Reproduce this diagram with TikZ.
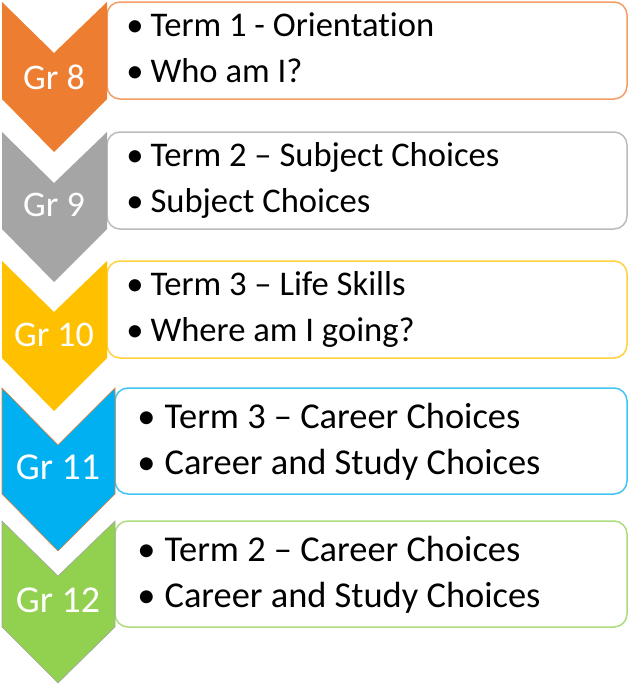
\documentclass[tikz,border=0pt]{standalone}
\usepackage{fontspec}
\setmainfont[Ligatures={NoCommon}]{Carlito}

\definecolor{gr8}{HTML}{ED7D31}
\definecolor{gr9}{HTML}{A5A5A5}
\definecolor{gr10}{HTML}{FFC000}
\definecolor{gr11}{HTML}{00B0F0}
\definecolor{gr12}{HTML}{92D050}

\tikzset{
	card/.style={draw=#1!75, line width=0.75pt, fill=white, rounded corners=6.5pt},
	chev/.style={fill=#1},
	grtext/.style={text=white, inner sep=0pt},
	item/.style={anchor=base west, inner sep=0pt, text=black},
}

\begin{document}
\begin{tikzpicture}[x=0.5pt, y=-0.5pt]

	\useasboundingbox (0, 0) rectangle (628, 685);

		% Gr 8
		\draw[card=gr8](107, 2) rectangle (627, 99);
		\fill[chev=gr8](2, 2) -- (54, 53) -- (107, 2) -- (107, 99) -- (54, 152) -- (2, 99) -- cycle;
		% Gr 9
		\draw[card=gr9](107, 132) rectangle (627, 229);
		\fill[chev=gr9](2, 132) -- (54, 183) -- (107, 132) -- (107, 229) -- (54, 282) -- (2, 229) -- cycle;
		% Gr 10
		\draw[card=gr10](107, 261) rectangle (627, 358);
		\fill[chev=gr10](2, 261) -- (54, 312) -- (107, 261) -- (107, 358) -- (54, 411) -- (2, 358) -- cycle;
		% Gr 11
		\draw[card=gr11](115, 388) rectangle (627, 494);
		\filldraw[chev=gr11, draw=gr8, line width=0.3pt](2, 388) -- (58, 445) -- (115, 388) -- (115, 494) -- (58, 551) -- (2, 494) -- cycle;
		% Gr 12
		\draw[card=gr12](115, 521) rectangle (627, 627);
		\filldraw[chev=gr12, draw=gr9, line width=0.3pt](2, 521) -- (58, 576) -- (115, 521) -- (115, 627) -- (58, 683) -- (2, 627) -- cycle;


		\node[grtext, font=\fontsize{18}{20}\selectfont] (g8) at(54, 77){Gr 8};
		\node[grtext, font=\fontsize{18}{20}\selectfont] (g9) at(54, 205){Gr 9};
		\node[grtext, font=\fontsize{18}{20}\selectfont] (g10) at(54, 335){Gr 10};
		\node[grtext, font=\fontsize{19}{21}\selectfont] (g11) at(58, 467){Gr 11};
		\node[grtext, font=\fontsize{19}{21}\selectfont] (g12) at(58, 600){Gr 12};

		\node[item, font=\fontsize{17.3}{20}\selectfont] (t8a) at(126, 36){•\hspace{.2em}Term 1 - Orientation};
		\node[item, font=\fontsize{17.3}{20}\selectfont] (t8b) at(126, 82){•\hspace{.2em}Who am I?};
		\node[item, font=\fontsize{17.3}{20}\selectfont] (t9a) at(126, 166){•\hspace{.2em}Term 2 – Subject Choices};
		\node[item, font=\fontsize{17.3}{20}\selectfont] (t9b) at(126, 212){•\hspace{.2em}Subject Choices};
		\node[item, font=\fontsize{17.3}{20}\selectfont] (t10a) at(126, 295){•\hspace{.2em}Term 3 – Life Skills};
		\node[item, font=\fontsize{17.3}{20}\selectfont] (t10b) at(126, 341){•\hspace{.2em}Where am I going?};
		\node[item, font=\fontsize{18.2}{21}\selectfont] (t11a) at(137, 428){•\hspace{.25em}Term 3 – Career Choices};
		\node[item, font=\fontsize{18.2}{21}\selectfont] (t11b) at(137, 474){•\hspace{.25em}Career and Study Choices};
		\node[item, font=\fontsize{18.2}{21}\selectfont] (t12a) at(137, 561){•\hspace{.25em}Term 2 – Career Choices};
		\node[item, font=\fontsize{18.2}{21}\selectfont] (t12b) at(137, 607){•\hspace{.25em}Career and Study Choices};

	\end{tikzpicture}
\end{document}
